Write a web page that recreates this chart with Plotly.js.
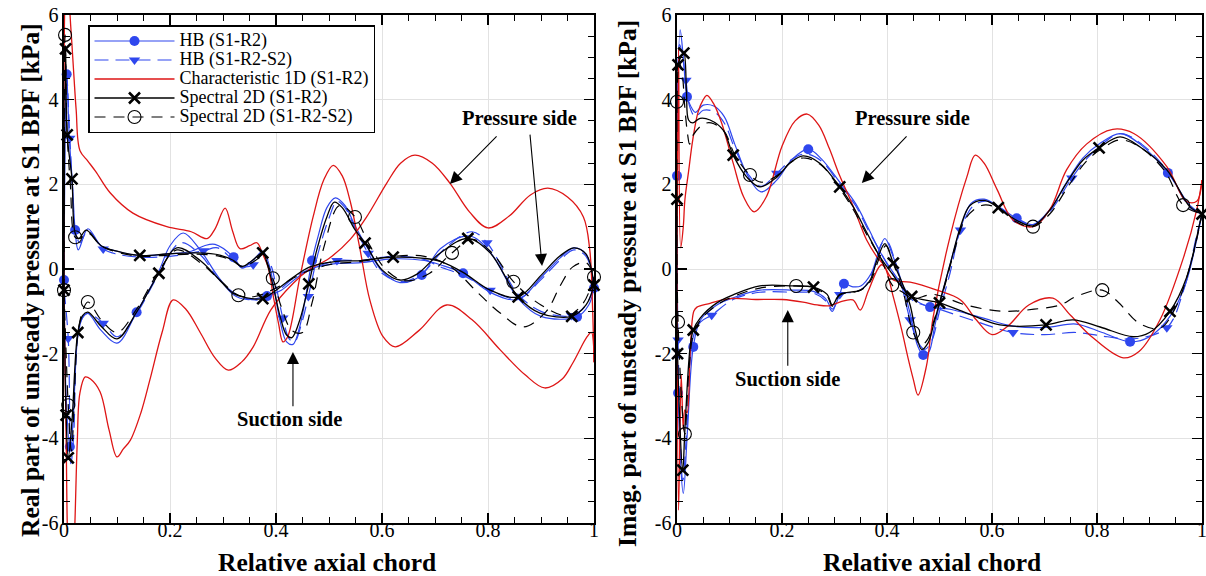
<!DOCTYPE html>
<html>
<head>
<meta charset="utf-8">
<script src="https://cdn.plot.ly/plotly-3.0.1.min.js"></script>
<style>
  html, body { margin: 0; padding: 0; background: #ffffff; }
  #chart { width: 1206px; height: 576px; }
</style>
</head>
<body>
<div id="chart"></div>
<script>
// ---------------- Tick labels ----------------
const xTickVals = [0, 0.2, 0.4, 0.6, 0.8, 1];
const xTickText = ['0', '0.2', '0.4', '0.6', '0.8', '1'];
const yTickVals = [-6, -4, -2, 0, 2, 4, 6];
const yTickText = ['-6', '-4', '-2', '0', '2', '4', '6'];

// ---------------- Series names ----------------
const seriesNames = ['HB (S1-R2)', 'HB (S1-R2-S2)', 'Characteristic 1D (S1-R2)', 'Spectral 2D (S1-R2)', 'Spectral 2D (S1-R2-S2)'];

// ================= Real part (left) =================
// HB (S1-R2)
const re_hb1_ss_x = [0, 0.005, 0.01, 0.016, 0.021, 0.027, 0.045, 0.07, 0.1, 0.143, 0.2, 0.24, 0.265, 0.285, 0.32, 0.336, 0.36, 0.375, 0.387, 0.397, 0.408, 0.42, 0.432, 0.445, 0.468, 0.48, 0.496, 0.512, 0.53, 0.55, 0.575, 0.6, 0.634, 0.675, 0.71, 0.765, 0.804, 0.857, 0.9, 0.968, 0.99, 1.0];
const re_hb1_ss_y = [-0.26, 4.6, 3.1, 2.0, 0.92, 0.45, 0.95, 0.55, 0.42, 0.32, 0.36, 0.42, 0.55, 0.58, 0.28, 0.02, 0.25, 0.42, 0.1, -0.5, -1.25, -1.72, -1.78, -1.35, 0.2, 0.8, 1.45, 1.68, 1.5, 1.0, 0.45, -0.05, -0.32, -0.14, 0.48, 0.78, 0.4, -0.7, -1.12, -1.13, -0.85, -0.45];
const re_hb1_ss_mk = [0, 0.005, 0.021, 0.32, 0.468, 0.675, 0.968];
const re_hb1_ps_x = [0, 0.004, 0.011, 0.016, 0.026, 0.035, 0.045, 0.07, 0.1, 0.137, 0.179, 0.2, 0.225, 0.257, 0.289, 0.319, 0.345, 0.383, 0.41, 0.44, 0.47, 0.508, 0.56, 0.621, 0.68, 0.71, 0.753, 0.804, 0.857, 0.9, 0.935, 0.962, 0.985, 1.0];
const re_hb1_ps_y = [-0.26, -3.0, -4.2, -3.8, -1.6, -1.15, -1.05, -1.45, -1.75, -1.02, -0.05, 0.55, 0.85, 0.45, -0.15, -0.6, -0.72, -0.64, -0.5, -0.2, 0.02, 0.12, 0.15, 0.24, 0.2, 0.1, -0.1, -0.55, -0.72, -0.2, 0.25, 0.5, 0.35, -0.45];
const re_hb1_ps_mk = [0.011, 0.137, 0.383, 0.753, 1.0];

// HB (S1-R2-S2)
const re_hb2_ss_x = [0, 0.004, 0.011, 0.016, 0.022, 0.03, 0.045, 0.074, 0.1, 0.143, 0.2, 0.263, 0.29, 0.32, 0.34, 0.357, 0.375, 0.39, 0.4, 0.413, 0.425, 0.435, 0.448, 0.461, 0.48, 0.5, 0.515, 0.53, 0.55, 0.574, 0.6, 0.64, 0.68, 0.72, 0.77, 0.798, 0.857, 0.9, 0.958, 0.985, 1.0];
const re_hb2_ss_y = [-0.5, 4.8, 3.09, 1.9, 0.85, 0.62, 0.9, 0.47, 0.35, 0.28, 0.3, 0.43, 0.5, 0.2, 0.05, 0.1, 0.35, 0.1, -0.4, -1.16, -1.65, -1.72, -1.3, -0.65, 0.4, 1.2, 1.6, 1.45, 0.95, 0.37, -0.1, -0.3, -0.05, 0.5, 0.88, 0.62, -0.6, -1.0, -1.1, -0.85, -0.4];
const re_hb2_ss_mk = [0.011, 0.074, 0.263, 0.357, 0.413, 0.461, 0.574, 0.798, 0.958];
const re_hb2_ps_x = [0, 0.008, 0.013, 0.018, 0.026, 0.035, 0.045, 0.074, 0.1, 0.137, 0.179, 0.22, 0.26, 0.289, 0.319, 0.345, 0.375, 0.4, 0.44, 0.47, 0.515, 0.56, 0.621, 0.68, 0.71, 0.753, 0.804, 0.857, 0.9, 0.935, 0.962, 0.985, 1.0];
const re_hb2_ps_y = [-0.5, -1.64, -4.6, -4.0, -1.55, -1.15, -1.05, -1.28, -1.6, -1.05, -0.12, 0.62, 0.3, -0.2, -0.55, -0.7, -0.72, -0.55, -0.15, 0.02, 0.2, 0.2, 0.3, 0.22, 0.05, -0.15, -0.5, -0.7, -0.25, 0.2, 0.45, 0.3, -0.4];
const re_hb2_ps_mk = [0.008, 0.074, 0.515, 0.804];

// Characteristic 1D (S1-R2)
const re_ch_ss_x = [0, 0.002, 0.007, 0.011, 0.015, 0.019, 0.023, 0.03, 0.045, 0.06, 0.087, 0.13, 0.194, 0.24, 0.27, 0.285, 0.304, 0.318, 0.332, 0.35, 0.364, 0.375, 0.385, 0.395, 0.405, 0.413, 0.422, 0.445, 0.47, 0.49, 0.508, 0.525, 0.54, 0.558, 0.577, 0.602, 0.625, 0.67, 0.722, 0.77, 0.823, 0.87, 0.907, 0.94, 0.96, 0.987, 0.995, 1.0];
const re_ch_ss_y = [-0.5, 6.5, 7.5, 6.1, 5.3, 4.5, 3.75, 2.8, 2.55, 2.3, 1.8, 1.32, 1.0, 0.88, 0.72, 0.95, 1.44, 0.9, 0.48, 0.55, 0.62, 0.35, 0.05, -0.65, -1.3, -1.72, -1.6, -0.2, 1.23, 2.1, 2.45, 2.2, 1.6, 0.5, -0.73, -1.6, -1.84, -1.45, -0.85, -1.2, -1.91, -2.5, -2.81, -2.6, -2.22, -1.6, -1.5, -2.2];
const re_ch_ps_x = [0, 0.004, 0.009, 0.015, 0.02, 0.025, 0.03, 0.04, 0.05, 0.068, 0.085, 0.1, 0.112, 0.125, 0.145, 0.162, 0.185, 0.206, 0.23, 0.257, 0.285, 0.31, 0.335, 0.357, 0.39, 0.433, 0.464, 0.5, 0.54, 0.571, 0.609, 0.635, 0.662, 0.695, 0.728, 0.765, 0.8, 0.84, 0.88, 0.913, 0.95, 0.98, 0.992, 0.997, 1.0];
const re_ch_ps_y = [-0.5, -4.0, -7.0, -7.5, -6.2, -4.1, -2.93, -2.55, -2.6, -2.9, -3.8, -4.44, -4.25, -4.05, -3.4, -2.62, -1.5, -0.73, -0.95, -1.5, -2.1, -2.39, -2.2, -1.84, -0.97, -0.33, 0.0, 0.25, 0.7, 1.23, 2.03, 2.5, 2.69, 2.5, 2.03, 1.35, 0.97, 1.25, 1.75, 1.91, 1.7, 1.23, 0.45, -0.8, -2.2];

// Spectral 2D (S1-R2)
const re_sp1_ss_x = [0, 0.003, 0.006, 0.015, 0.021, 0.028, 0.042, 0.07, 0.1, 0.143, 0.2, 0.25, 0.294, 0.32, 0.336, 0.355, 0.375, 0.385, 0.395, 0.408, 0.42, 0.43, 0.445, 0.462, 0.477, 0.496, 0.51, 0.525, 0.548, 0.568, 0.6, 0.634, 0.666, 0.71, 0.762, 0.804, 0.857, 0.898, 0.958, 0.985, 1.0];
const re_sp1_ss_y = [-0.5, 5.2, 3.17, 2.13, 0.85, 0.72, 0.92, 0.55, 0.42, 0.32, 0.36, 0.38, 0.33, 0.2, 0.06, 0.2, 0.38, 0.05, -0.43, -1.13, -1.56, -1.62, -1.2, -0.35, 0.45, 1.23, 1.58, 1.45, 0.95, 0.61, -0.02, -0.26, -0.12, 0.38, 0.72, 0.38, -0.66, -1.04, -1.12, -0.85, -0.38];
const re_sp1_ss_mk = [0, 0.003, 0.006, 0.015, 0.143, 0.375, 0.462, 0.568, 0.762, 0.958, 1.0];
const re_sp1_ps_x = [0, 0.004, 0.008, 0.015, 0.026, 0.035, 0.045, 0.07, 0.1, 0.137, 0.179, 0.213, 0.257, 0.289, 0.319, 0.345, 0.375, 0.4, 0.433, 0.464, 0.508, 0.56, 0.621, 0.68, 0.71, 0.753, 0.804, 0.857, 0.9, 0.935, 0.962, 0.985, 1.0];
const re_sp1_ps_y = [-0.5, -3.45, -4.46, -3.6, -1.5, -1.1, -1.02, -1.35, -1.65, -1.02, -0.1, 0.5, 0.2, -0.2, -0.57, -0.68, -0.7, -0.5, -0.19, 0.05, 0.17, 0.2, 0.28, 0.25, 0.18, -0.08, -0.5, -0.66, -0.15, 0.3, 0.5, 0.35, -0.38];
const re_sp1_ps_mk = [0.004, 0.008, 0.026, 0.179, 0.375, 0.621, 0.857];

// Spectral 2D (S1-R2-S2)
const re_sp2_ss_x = [0, 0.002, 0.006, 0.012, 0.021, 0.03, 0.045, 0.07, 0.1, 0.143, 0.2, 0.25, 0.294, 0.32, 0.336, 0.355, 0.375, 0.394, 0.41, 0.43, 0.45, 0.468, 0.49, 0.52, 0.549, 0.575, 0.61, 0.645, 0.69, 0.732, 0.77, 0.81, 0.848, 0.9, 0.95, 0.98, 1.0];
const re_sp2_ss_y = [-0.5, 5.53, 3.2, 2.0, 0.75, 0.72, 0.85, 0.55, 0.4, 0.3, 0.33, 0.35, 0.3, 0.18, 0.05, 0.15, 0.28, -0.22, -0.9, -1.45, -1.5, -0.8, 0.5, 1.5, 1.23, 0.6, -0.05, -0.28, -0.1, 0.38, 0.7, 0.35, -0.3, -0.85, -1.1, -0.8, -0.19];
const re_sp2_ss_mk = [0, 0.002, 0.021, 0.394, 0.549, 0.732, 0.848, 1.0];
const re_sp2_ps_x = [0, 0.004, 0.008, 0.014, 0.026, 0.035, 0.045, 0.07, 0.1, 0.137, 0.179, 0.213, 0.257, 0.289, 0.329, 0.36, 0.4, 0.45, 0.5, 0.56, 0.621, 0.68, 0.73, 0.78, 0.823, 0.866, 0.91, 0.936, 0.96, 0.985, 1.0];
const re_sp2_ps_y = [-0.5, -2.0, -3.22, -4.3, -1.55, -1.0, -0.78, -1.2, -1.5, -0.95, -0.05, 0.45, 0.15, -0.2, -0.62, -0.65, -0.45, -0.1, 0.1, 0.18, 0.3, 0.3, 0.05, -0.55, -1.04, -1.37, -1.0, -0.4, 0.05, 0.15, -0.19];
const re_sp2_ps_mk = [0.008, 0.045, 0.329];

// ================= Imaginary part (right) =================
// HB (S1-R2)
const im_hb1_up_x = [0, 0.006, 0.012, 0.019, 0.026, 0.035, 0.05, 0.07, 0.09, 0.11, 0.135, 0.16, 0.19, 0.22, 0.25, 0.275, 0.31, 0.34, 0.365, 0.387, 0.41, 0.43, 0.45, 0.482, 0.52, 0.58, 0.64, 0.703, 0.76, 0.81, 0.863, 0.9, 0.94, 0.97, 0.995, 1.0];
const im_hb1_up_y = [2.2, 5.65, 5.0, 4.07, 3.85, 3.7, 3.87, 3.85, 3.6, 2.95, 2.2, 1.82, 2.1, 2.6, 2.83, 2.6, 2.05, 1.55, 0.95, 0.4, -0.05, -0.4, -0.7, -0.9, -0.95, -1.15, -1.35, -1.38, -1.3, -1.5, -1.72, -1.6, -1.1, -0.3, 1.0, 1.3];
const im_hb1_up_mk = [0, 0.019, 0.25, 0.482, 0.863];
const im_hb1_lo_x = [0, 0.002, 0.012, 0.02, 0.031, 0.045, 0.076, 0.107, 0.158, 0.221, 0.26, 0.283, 0.296, 0.31, 0.318, 0.335, 0.35, 0.37, 0.385, 0.396, 0.41, 0.43, 0.445, 0.458, 0.469, 0.48, 0.49, 0.5, 0.52, 0.54, 0.56, 0.585, 0.615, 0.647, 0.678, 0.71, 0.742, 0.773, 0.804, 0.844, 0.882, 0.935, 0.977, 1.0];
const im_hb1_lo_y = [2.2, -2.93, -5.3, -3.8, -1.84, -1.2, -0.85, -0.68, -0.5, -0.5, -0.53, -0.7, -0.95, -0.6, -0.35, -0.42, -0.4, -0.1, 0.45, 0.72, 0.35, -0.4, -1.1, -1.8, -2.03, -1.95, -1.4, -0.85, 0.1, 0.95, 1.55, 1.65, 1.45, 1.2, 1.05, 1.4, 2.05, 2.62, 2.95, 3.2, 2.95, 2.27, 1.5, 1.3];
const im_hb1_lo_mk = [0.002, 0.031, 0.318, 0.469, 0.647, 0.935];

// HB (S1-R2-S2)
const im_hb2_up_x = [0, 0.005, 0.012, 0.017, 0.025, 0.035, 0.05, 0.07, 0.09, 0.11, 0.135, 0.16, 0.19, 0.22, 0.245, 0.275, 0.31, 0.34, 0.365, 0.39, 0.41, 0.43, 0.45, 0.5, 0.56, 0.64, 0.7, 0.76, 0.82, 0.87, 0.933, 0.965, 0.99, 1.0];
const im_hb2_up_y = [1.2, 5.3, 4.9, 4.46, 3.8, 3.6, 3.75, 3.72, 3.45, 2.85, 2.25, 1.95, 2.26, 2.6, 2.72, 2.55, 2.0, 1.5, 0.9, 0.35, -0.1, -0.45, -0.75, -0.95, -1.2, -1.5, -1.55, -1.5, -1.6, -1.65, -1.39, -0.5, 0.8, 1.3];
const im_hb2_up_mk = [0.017, 0.19, 0.64, 0.933];
const im_hb2_lo_x = [0, 0.002, 0.011, 0.02, 0.031, 0.045, 0.066, 0.107, 0.158, 0.221, 0.26, 0.283, 0.296, 0.31, 0.335, 0.355, 0.375, 0.39, 0.4, 0.415, 0.43, 0.444, 0.46, 0.472, 0.485, 0.5, 0.52, 0.54, 0.565, 0.59, 0.62, 0.65, 0.68, 0.71, 0.752, 0.78, 0.81, 0.845, 0.885, 0.935, 0.977, 1.0];
const im_hb2_lo_y = [1.2, -1.68, -5.0, -3.5, -1.6, -1.25, -1.09, -0.72, -0.55, -0.55, -0.57, -0.75, -1.0, -0.6, -0.55, -0.45, 0.0, 0.6, 0.65, 0.2, -0.5, -1.2, -1.75, -1.9, -1.7, -1.0, -0.1, 0.92, 1.5, 1.6, 1.4, 1.15, 1.05, 1.35, 2.15, 2.6, 2.95, 3.2, 2.95, 2.3, 1.45, 1.3];
const im_hb2_lo_mk = [0.002, 0.066, 0.31, 0.444, 0.54, 0.752];

// Characteristic 1D (S1-R2)
const im_ch_up_x = [0, 0.003, 0.007, 0.012, 0.015, 0.022, 0.03, 0.04, 0.05, 0.057, 0.07, 0.085, 0.107, 0.127, 0.147, 0.17, 0.2, 0.225, 0.248, 0.27, 0.29, 0.31, 0.335, 0.361, 0.38, 0.396, 0.412, 0.428, 0.44, 0.45, 0.459, 0.475, 0.488, 0.52, 0.552, 0.568, 0.585, 0.61, 0.64, 0.678, 0.71, 0.742, 0.78, 0.83, 0.87, 0.933, 0.97, 0.99, 1.0];
const im_ch_up_y = [0, 5.2, 0.5, 1.0, 1.63, 2.3, 3.05, 3.7, 4.0, 4.1, 3.9, 3.45, 2.5, 1.7, 1.35, 1.7, 2.9, 3.5, 3.66, 3.4, 2.85, 2.2, 1.5, 0.69, 0.3, 0.05, -0.66, -1.44, -2.1, -2.6, -2.98, -2.3, -1.13, 0.76, 2.17, 2.69, 2.5, 1.87, 1.16, 1.0, 1.4, 2.34, 2.95, 3.3, 3.2, 2.42, 1.6, 1.6, 2.1];
const im_ch_lo_x = [0, 0.003, 0.008, 0.012, 0.015, 0.019, 0.025, 0.032, 0.038, 0.063, 0.1, 0.15, 0.2, 0.24, 0.267, 0.29, 0.31, 0.335, 0.349, 0.365, 0.39, 0.412, 0.444, 0.495, 0.54, 0.57, 0.6, 0.63, 0.67, 0.716, 0.75, 0.79, 0.85, 0.88, 0.92, 0.965, 0.99, 1.0];
const im_ch_lo_y = [0, -5.7, -2.5, -3.8, -3.33, -3.4, -2.0, -1.0, -0.9, -0.81, -0.7, -0.72, -0.72, -0.78, -0.85, -0.87, -0.78, -0.73, -0.97, -0.5, 0.1, -0.26, -0.31, -0.5, -0.73, -1.2, -1.55, -1.35, -0.85, -0.69, -1.1, -1.6, -2.1, -1.95, -1.2, 0.28, 1.4, 2.1];

// Spectral 2D (S1-R2)
const im_sp1_up_x = [0, 0.002, 0.013, 0.018, 0.022, 0.03, 0.044, 0.063, 0.088, 0.107, 0.133, 0.158, 0.19, 0.215, 0.24, 0.272, 0.31, 0.336, 0.362, 0.387, 0.412, 0.43, 0.447, 0.5, 0.552, 0.615, 0.703, 0.754, 0.806, 0.869, 0.9, 0.939, 0.971, 0.996, 1.0];
const im_sp1_up_y = [1.65, 4.82, 5.1, 4.2, 3.52, 3.45, 3.56, 3.52, 3.28, 2.69, 2.17, 1.94, 2.17, 2.5, 2.67, 2.5, 1.94, 1.46, 0.85, 0.28, -0.15, -0.45, -0.65, -0.8, -1.04, -1.32, -1.32, -1.2, -1.37, -1.6, -1.5, -1.0, -0.19, 1.09, 1.3];
const im_sp1_up_mk = [0, 0.002, 0.013, 0.107, 0.31, 0.447, 0.5, 0.703, 0.939];
const im_sp1_lo_x = [0, 0.001, 0.011, 0.015, 0.025, 0.031, 0.044, 0.076, 0.107, 0.158, 0.221, 0.26, 0.286, 0.296, 0.31, 0.349, 0.368, 0.381, 0.396, 0.412, 0.428, 0.444, 0.455, 0.466, 0.478, 0.49, 0.5, 0.52, 0.54, 0.558, 0.585, 0.612, 0.647, 0.678, 0.71, 0.742, 0.773, 0.804, 0.844, 0.882, 0.933, 0.977, 1.0];
const im_sp1_lo_y = [1.65, -2.0, -4.75, -3.8, -1.84, -1.44, -1.16, -0.8, -0.61, -0.4, -0.4, -0.43, -0.6, -0.85, -0.6, -0.5, -0.26, 0.21, 0.6, 0.14, -0.3, -0.85, -1.5, -1.9, -1.75, -1.25, -0.8, 0.1, 1.0, 1.5, 1.62, 1.45, 1.15, 1.02, 1.39, 2.03, 2.57, 2.86, 3.12, 2.88, 2.34, 1.47, 1.3];
const im_sp1_lo_mk = [0.001, 0.011, 0.031, 0.26, 0.412, 0.612, 0.804, 1.0];

// Spectral 2D (S1-R2-S2)
const im_sp2_up_x = [0, 0.004, 0.01, 0.015, 0.02, 0.024, 0.03, 0.05, 0.065, 0.09, 0.11, 0.139, 0.16, 0.19, 0.22, 0.245, 0.275, 0.31, 0.336, 0.362, 0.39, 0.41, 0.43, 0.45, 0.488, 0.55, 0.62, 0.68, 0.73, 0.76, 0.81, 0.84, 0.88, 0.92, 0.95, 0.98, 1.0];
const im_sp2_up_y = [3.95, 4.9, 4.6, 3.8, 3.2, 2.95, 3.15, 3.42, 3.45, 3.25, 2.7, 2.22, 2.05, 2.2, 2.55, 2.62, 2.45, 1.9, 1.4, 0.8, 0.2, -0.38, -0.55, -0.7, -0.6, -0.85, -1.0, -0.95, -0.85, -0.65, -0.5, -0.78, -1.28, -1.4, -0.9, 0.2, 1.3];
const im_sp2_up_mk = [0, 0.139, 0.41, 0.81];
const im_sp2_lo_x = [0, 0.002, 0.015, 0.022, 0.031, 0.045, 0.076, 0.107, 0.158, 0.227, 0.26, 0.285, 0.296, 0.31, 0.35, 0.368, 0.385, 0.398, 0.413, 0.43, 0.45, 0.465, 0.478, 0.49, 0.51, 0.53, 0.55, 0.58, 0.61, 0.645, 0.678, 0.71, 0.745, 0.78, 0.81, 0.845, 0.885, 0.93, 0.964, 1.0];
const im_sp2_lo_y = [3.95, -1.25, -3.9, -2.5, -1.55, -1.2, -0.85, -0.65, -0.45, -0.4, -0.45, -0.62, -0.88, -0.62, -0.5, -0.3, 0.25, 0.55, 0.1, -0.5, -1.5, -1.8, -1.65, -1.2, -0.4, 0.5, 1.2, 1.5, 1.45, 1.12, 1.0, 1.3, 1.95, 2.55, 2.85, 3.05, 2.85, 2.3, 1.51, 1.3];
const im_sp2_lo_mk = [0.002, 0.015, 0.227, 0.45, 0.678, 0.964];

// ---------------- Styles per series ----------------
const BLUE = '#2f47ee';
const RED = '#de1515';
const STYLES = [
  { color: BLUE, width: 1.2, dash: 'solid', marker: { symbol: 'circle', size: 10, color: BLUE, line: { width: 0 } } },
  { color: BLUE, width: 1.2, dash: '14px,7px', marker: { symbol: 'triangle-down', size: 10, color: BLUE, line: { width: 0 } } },
  { color: RED, width: 1.3, dash: 'solid', marker: null },
  { color: '#000000', width: 1.3, dash: 'solid', marker: { symbol: 'x-thin', size: 11, color: '#000000', line: { width: 2.6, color: '#000000' } } },
  { color: '#000000', width: 1.2, dash: '11px,8px', marker: { symbol: 'circle-open', size: 13, color: '#000000', line: { width: 1.1 } } }
];

// Curve list: [series index, x axis, x, y, marker positions]
const CURVES = [
  [0, 'x', re_hb1_ss_x, re_hb1_ss_y, re_hb1_ss_mk], [0, 'x', re_hb1_ps_x, re_hb1_ps_y, re_hb1_ps_mk],
  [1, 'x', re_hb2_ss_x, re_hb2_ss_y, re_hb2_ss_mk], [1, 'x', re_hb2_ps_x, re_hb2_ps_y, re_hb2_ps_mk],
  [2, 'x', re_ch_ss_x, re_ch_ss_y, null], [2, 'x', re_ch_ps_x, re_ch_ps_y, null],
  [3, 'x', re_sp1_ss_x, re_sp1_ss_y, re_sp1_ss_mk], [3, 'x', re_sp1_ps_x, re_sp1_ps_y, re_sp1_ps_mk],
  [4, 'x', re_sp2_ss_x, re_sp2_ss_y, re_sp2_ss_mk], [4, 'x', re_sp2_ps_x, re_sp2_ps_y, re_sp2_ps_mk],
  [0, 'x2', im_hb1_up_x, im_hb1_up_y, im_hb1_up_mk], [0, 'x2', im_hb1_lo_x, im_hb1_lo_y, im_hb1_lo_mk],
  [1, 'x2', im_hb2_up_x, im_hb2_up_y, im_hb2_up_mk], [1, 'x2', im_hb2_lo_x, im_hb2_lo_y, im_hb2_lo_mk],
  [2, 'x2', im_ch_up_x, im_ch_up_y, null], [2, 'x2', im_ch_lo_x, im_ch_lo_y, null],
  [3, 'x2', im_sp1_up_x, im_sp1_up_y, im_sp1_up_mk], [3, 'x2', im_sp1_lo_x, im_sp1_lo_y, im_sp1_lo_mk],
  [4, 'x2', im_sp2_up_x, im_sp2_up_y, im_sp2_up_mk], [4, 'x2', im_sp2_lo_x, im_sp2_lo_y, im_sp2_lo_mk]
];

const traces = [];

// Legend entries (one per series)
seriesNames.forEach((name, i) => {
  const st = STYLES[i];
  const t = {
    type: 'scatter', x: [null], y: [null],
    name: '<span style="font-size:18px">' + name + '</span>',
    mode: st.marker ? 'lines+markers' : 'lines',
    line: { color: st.color, width: st.width, dash: st.dash },
    showlegend: true, hoverinfo: 'skip'
  };
  if (st.marker) t.marker = st.marker;
  traces.push(t);
});

// Curves and their markers
CURVES.forEach(([s, xa, xs, ys, mk]) => {
  const st = STYLES[s];
  const ya = xa === 'x' ? 'y' : 'y2';
  traces.push({
    type: 'scatter', mode: 'lines', x: xs, y: ys, xaxis: xa, yaxis: ya,
    line: { color: st.color, width: st.width, dash: st.dash, shape: 'spline', smoothing: 1 },
    showlegend: false, hoverinfo: 'skip'
  });
  if (mk && st.marker) {
    const mx = [], my = [];
    mk.forEach(v => {
      const i = xs.indexOf(v);
      if (i >= 0) { mx.push(xs[i]); my.push(ys[i]); }
    });
    traces.push({
      type: 'scatter', mode: 'markers', x: mx, y: my, xaxis: xa, yaxis: ya,
      marker: st.marker, cliponaxis: false, showlegend: false, hoverinfo: 'skip'
    });
  }
});

// ---------------- Axes ----------------
const FONT = 'Liberation Serif, Times New Roman, serif';
function xAxis(domain, anchor) {
  return {
    domain: domain, anchor: anchor, range: [0, 1],
    tickmode: 'array', tickvals: xTickVals, ticktext: xTickText,
    ticks: 'inside', ticklen: 10, tickwidth: 1.3, tickcolor: '#000',
    ticklabelstandoff: -12, ticklabeloverflow: 'allow',
    showline: true, linecolor: '#000', linewidth: 1.6, mirror: 'allticks',
    showgrid: true, gridcolor: '#e2e2e2', gridwidth: 1, zeroline: false,
    tickfont: { family: FONT, size: 20, color: '#000' },
    minor: { dtick: 0.05, tick0: 0, ticks: 'inside', ticklen: 6, tickwidth: 1, tickcolor: '#000', showgrid: false },
    fixedrange: true
  };
}
function yAxis(anchor) {
  return {
    domain: [0, 1], anchor: anchor, range: [-6, 6],
    tickmode: 'array', tickvals: yTickVals, ticktext: yTickText,
    ticks: 'inside', ticklen: 10, tickwidth: 1.3, tickcolor: '#000',
    ticklabeloverflow: 'allow',
    showline: true, linecolor: '#000', linewidth: 1.6, mirror: 'allticks',
    showgrid: true, gridcolor: '#e2e2e2', gridwidth: 1, zeroline: false,
    tickfont: { family: FONT, size: 20, color: '#000' },
    minor: { dtick: 0.5, tick0: 0, ticks: 'inside', ticklen: 6, tickwidth: 1, tickcolor: '#000', showgrid: false },
    fixedrange: true
  };
}

const W = 1206, H = 576, MT = 15, MB = 53;
const px = v => v / W;                       // paper x from pixels
const py = v => (H - MB - v) / (H - MT - MB); // paper y from pixels

const titleFont = { family: FONT, size: 25.5, color: '#000' };
const noteFont = { family: FONT, size: 20.5, color: '#000' };

function label(text, x, y, xref, yref, font, angle) {
  return { text: text, x: x, y: y, xref: xref, yref: yref, showarrow: false, font: font,
           textangle: angle || 0, xanchor: 'center', yanchor: 'middle' };
}
function arrow(xa, ya, tx, ty, hx, hy) {
  return { text: '', x: hx, y: hy, ax: tx, ay: ty, xref: xa, yref: ya, axref: xa, ayref: ya,
           showarrow: true, arrowhead: 2, arrowsize: 2.2, arrowwidth: 1.1, arrowcolor: '#000',
           standoff: 0, startstandoff: 0 };
}

const annotations = [
  // axis titles
  label('<b>Real part of unsteady pressure at S1 BPF [kPa]</b>', px(30), py(280), 'paper', 'paper', titleFont, -90),
  label('<b>Imag. part of unsteady pressure at S1 BPF [kPa]</b>', px(627), py(284), 'paper', 'paper', titleFont, -90),
  label('<b>Relative axial chord</b>', px(327), py(562), 'paper', 'paper', titleFont),
  label('<b>Relative axial chord</b>', px(932), py(562), 'paper', 'paper', titleFont),
  // side labels
  label('<b>Pressure side</b>', 0.86, 3.57, 'x', 'y', noteFont),
  label('<b>Suction side</b>', 0.425, -3.54, 'x', 'y', noteFont),
  label('<b>Pressure side</b>', 0.448, 3.57, 'x2', 'y2', noteFont),
  label('<b>Suction side</b>', 0.211, -2.6, 'x2', 'y2', noteFont),
  arrow('x', 'y', 0.819, 3.17, 0.728, 2.01),
  arrow('x', 'y', 0.879, 3.21, 0.902, 0.07),
  arrow('x', 'y', 0.432, -3.28, 0.432, -1.96),
  arrow('x2', 'y2', 0.44, 3.17, 0.352, 2.03),
  arrow('x2', 'y2', 0.211, -2.32, 0.211, -0.97)
];

const layout = {
  width: W, height: H,
  margin: { l: 0, r: 0, t: MT, b: MB, pad: 0 },
  paper_bgcolor: '#ffffff', plot_bgcolor: '#ffffff',
  font: { family: FONT, color: '#000' },
  showlegend: true,
  legend: {
    x: px(88), y: py(25), xanchor: 'left', yanchor: 'top',
    bgcolor: '#ffffff', bordercolor: '#000', borderwidth: 1.5,
    font: { family: FONT, size: 12.3, color: '#000' },
    itemwidth: 80, traceorder: 'normal', tracegroupgap: 0
  },
  xaxis: xAxis([px(64), px(594)], 'y'),
  yaxis: yAxis('x'),
  xaxis2: xAxis([px(677), px(1202)], 'y2'),
  yaxis2: yAxis('x2'),
  annotations: annotations,
  hovermode: false
};

Plotly.newPlot('chart', traces, layout, { staticPlot: true, displayModeBar: false });
</script>
</body>
</html>
